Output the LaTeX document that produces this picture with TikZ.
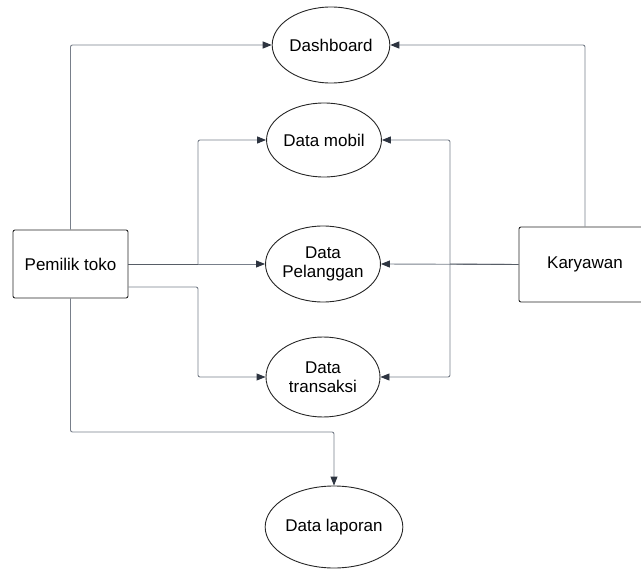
\documentclass[tikz,border=0pt]{standalone}
\usepackage{fontspec}
\setsansfont{Liberation Sans}
\usepackage{xcolor}
\usepackage{tikz}
\usetikzlibrary{calc, shapes.geometric, positioning, arrows.meta}

\definecolor{duong}{RGB}{120,127,138}
\definecolor{muiten}{RGB}{45,52,64}

\begin{document}
\begin{tikzpicture}[x=1pt, y=-1pt,
    font=\sffamily\fontsize{17}{19}\selectfont,
    quytrinh/.style={ellipse, draw=black!85, line width=0.9pt, inner sep=0pt,
        minimum width=114pt, minimum height=76pt, align=center},
    tacnhan/.style={rectangle, draw=black!85, line width=0.9pt, rounded corners=2pt,
        inner sep=0pt, align=center},
    ketnoi/.style={draw=duong, line width=0.9pt, rounded corners=2pt,
        -{Triangle[length=9pt, width=7pt, fill=muiten, color=muiten]}},
    nhanh/.style={draw=duong, line width=0.9pt, rounded corners=2pt}]

    \useasboundingbox (0,0) rectangle (641,570);

    % =================================================================
    % 1. CÁC TÁC NHÂN (hai hình chữ nhật hai bên)
    % =================================================================
    \node[tacnhan, minimum width=115pt, minimum height=68pt] (pemilik) at (70.5,264) {Pemilik toko};
    \node[tacnhan, minimum width=132pt, minimum height=75pt] (karyawan) at (585,264.5) {Karyawan};

    % =================================================================
    % 2. CÁC QUY TRÌNH (hình elip ở giữa)
    % =================================================================
    \node[quytrinh] (dashboard) at (331,45) {Dashboard};
    \node[quytrinh, minimum width=112pt, minimum height=74pt] (mobil) at (324,140) {Data mobil};
    \node[quytrinh] (pelanggan) at (323,264) {Data\\Pelanggan};
    \node[quytrinh, minimum height=80pt] (transaksi) at (323,377) {Data\\transaksi};
    \node[quytrinh, minimum width=116pt, minimum height=82pt] (laporan) at (334,527) {Data laporan};

    % Các điểm rẽ nhánh
    \coordinate (jl) at (198,264);
    \coordinate (jr) at (450,264);
    \coordinate (p2) at ([yshift=-23pt]pemilik.east);
    \coordinate (jb) at (70.5,432);

    % =================================================================
    % 3. ĐƯỜNG NỐI TỪ PEMILIK TOKO
    % =================================================================
    \draw[ketnoi] (pemilik.north) |- (dashboard.west);
    \draw[ketnoi] (pemilik.east) -- (pelanggan.west);
    \draw[ketnoi] (jl) |- (mobil.west);
    \draw[ketnoi] (p2) -- (p2 -| jl) |- (transaksi.west);
    \draw[ketnoi] (pemilik.south) -- (jb) -| (laporan.north);
    \draw[nhanh, draw=muiten!80] (pemilik.east) -- (jl);

    % =================================================================
    % 4. ĐƯỜNG NỐI TỪ KARYAWAN
    % =================================================================
    \draw[ketnoi] (karyawan.north) |- (dashboard.east);
    \draw[ketnoi] (karyawan.west) -- (pelanggan.east);
    \draw[ketnoi] (jr) |- (mobil.east);
    \draw[ketnoi] (jr) |- (transaksi.east);
    \draw[nhanh, draw=muiten!80] (karyawan.west) -- (jr);

\end{tikzpicture}
\end{document}
